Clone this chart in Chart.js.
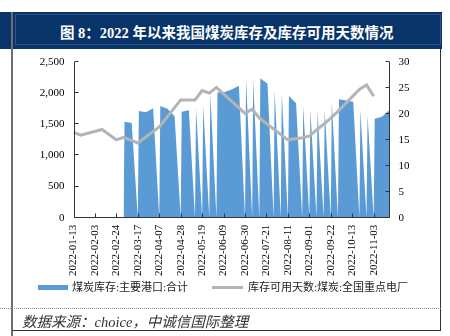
<!DOCTYPE html>
<html>
<head>
<meta charset="utf-8">
<script src="https://cdn.jsdelivr.net/npm/chart.js@4.4.1/dist/chart.umd.min.js"></script>
<style>
  body { margin: 0; background: #fff; }
  #page { position: relative; width: 450px; height: 336px; overflow: hidden; background: #fff;
          font-family: "Liberation Serif", "Noto Sans CJK SC", serif; }
  #titlebar { position: absolute; left: 0; top: 12px; width: 442px; height: 37px; background: #08346a; }
  #titlebar .inner { position: absolute; left: 15px; top: 2px; right: 1px; bottom: 4px; border: 1px solid #2b5488; }
  #title { position: absolute; left: 60px; top: 24px; height: 18px; line-height: 18px; color: #fff;
           font-weight: bold; font-size: 14.5px; white-space: nowrap; }
  .vline { position: absolute; width: 0; }
  #leftline { left: 11px; top: 12px; height: 324px; border-left: 2px solid #6e6e6e; }
  #rightline { left: 440px; top: 49px; height: 282px; border-left: 1.5px solid #333; }
  #bottomline { position: absolute; left: 12px; top: 330px; width: 429px; border-top: 1.5px solid #333; }
  #dotline { position: absolute; left: 0; top: 308px; width: 441px; border-top: 1px dotted #888; }
  #chart { position: absolute; left: 0; top: 0; }
  .legend-text { position: absolute; top: 279px; height: 17px; line-height: 17px; font-size: 11px; color: #222; white-space: nowrap; }
  #source { position: absolute; left: 22px; top: 312px; height: 20px; line-height: 20px; font-size: 14.5px;
            font-style: italic; color: #333; white-space: nowrap; }
</style>
</head>
<body>
<div id="page">
  <div id="titlebar"><div class="inner"></div></div>
  <div id="title">图 8：2022 年以来我国煤炭库存及库存可用天数情况</div>
  <div id="leftline" class="vline"></div>
  <div id="rightline" class="vline"></div>
  <div id="bottomline"></div>
  <div id="dotline"></div>
  <canvas id="chart" width="450" height="336"></canvas>
  <div style="position:absolute;left:38px;top:285px;width:30px;height:5px;background:#5b9bd5"></div>
  <div class="legend-text" style="left:72px">煤炭库存:主要港口:合计</div>
  <div style="position:absolute;left:212px;top:286px;width:31px;height:3px;background:#b4b4b4"></div>
  <div class="legend-text" style="left:248px">库存可用天数:煤炭:全国重点电厂</div>
  <div id="source">数据来源：choice，中诚信国际整理</div>
</div>
<script>
// 横轴刻度（每三周一个）
const xTickLabels = ['2022-01-13', '2022-02-03', '2022-02-24', '2022-03-17', '2022-04-07',
  '2022-04-28', '2022-05-19', '2022-06-09', '2022-06-30', '2022-07-21', '2022-08-11',
  '2022-09-01', '2022-09-22', '2022-10-13', '2022-11-03'];

// 煤炭库存:主要港口:合计（万吨）
const stockDates = ['2022-03-04', '2022-03-11', '2022-03-18', '2022-03-25', '2022-04-01',
  '2022-04-08', '2022-04-15', '2022-04-22', '2022-04-29', '2022-05-06', '2022-05-13',
  '2022-05-20', '2022-05-27', '2022-06-03', '2022-06-10', '2022-06-17', '2022-06-24',
  '2022-07-01', '2022-07-08', '2022-07-15', '2022-07-22', '2022-07-29', '2022-08-05',
  '2022-08-12', '2022-08-19', '2022-08-26', '2022-09-02', '2022-09-09', '2022-09-16',
  '2022-09-23', '2022-09-30', '2022-10-07', '2022-10-14', '2022-10-21', '2022-10-28',
  '2022-11-04', '2022-11-11', '2022-11-18'];
const stockValues = [1540, 1520, 1713, 1692, 1757,
  1794, 1750, 1630, 1702, 1724, 1760,
  1800, 2000, 2010, 2020, 2060, 2117,
  2230, 2220, 2238, 2150, 2050, 2000,
  1954, 1837, 1790, 1730, 1710, 1740,
  1860, 1900, 1880, 1860, 1730, 1650,
  1590, 1620, 1720];

// 库存可用天数:煤炭:全国重点电厂（天）
const daysDates = ['2022-01-13', '2022-01-20', '2022-02-10', '2022-02-24', '2022-03-03',
  '2022-03-17', '2022-04-07', '2022-04-28', '2022-05-12', '2022-05-19', '2022-05-26',
  '2022-06-02', '2022-06-30', '2022-07-07', '2022-07-14', '2022-07-28', '2022-08-04',
  '2022-08-11', '2022-08-25', '2022-09-01', '2022-09-08', '2022-09-15', '2022-09-22',
  '2022-09-29', '2022-10-20', '2022-10-27', '2022-11-03'];
const daysValues = [16.5, 15.9, 17.0, 15.0, 15.5,
  14.4, 17.5, 22.7, 22.7, 24.5, 24.0,
  25.1, 20.1, 20.9, 19.2, 17.1, 16.0,
  15.0, 15.4, 15.7, 16.9, 18.0, 19.2,
  20.5, 24.7, 25.6, 23.4];

const START = Date.parse('2022-01-13');
const dayOf = s => Math.round((Date.parse(s) - START) / 864e5);

// 面积图按日期轴合并：电厂数据日期上港口库存为空，按 0 处理
const stockPoints = stockDates.map((d, i) => ({ x: dayOf(d), y: stockValues[i] }))
  .concat(daysDates.filter(d => dayOf(d) >= dayOf('2022-03-03')).map(d => ({ x: dayOf(d), y: 0 })))
  .sort((a, b) => a.x - b.x);
const daysPoints = daysDates.map((d, i) => ({ x: dayOf(d), y: daysValues[i] }));

const tickFont = { family: '"Liberation Serif", serif', size: 11 };

// 坐标轴线和朝内的刻度线
const axisLines = {
  id: 'axisLines',
  afterDatasetsDraw(chart) {
    const { ctx, chartArea: a, scales } = chart;
    const L = Math.round(a.left) + 0.5, R = Math.round(a.right) - 0.5, B = Math.round(a.bottom) - 0.5;
    ctx.save();
    ctx.strokeStyle = '#333';
    ctx.lineWidth = 1;
    ctx.beginPath();
    ctx.moveTo(L, a.top); ctx.lineTo(L, B); ctx.lineTo(R, B);
    ctx.moveTo(R, a.top); ctx.lineTo(R, B);
    scales.y.ticks.forEach(t => {
      const y = Math.round(scales.y.getPixelForValue(t.value)) - 0.5;
      ctx.moveTo(L, y); ctx.lineTo(L + 4, y);
    });
    scales.y1.ticks.forEach(t => {
      const y = Math.round(scales.y1.getPixelForValue(t.value)) - 0.5;
      ctx.moveTo(R, y); ctx.lineTo(R - 4, y);
    });
    scales.x.ticks.forEach(t => {
      const x = Math.round(scales.x.getPixelForValue(t.value)) + 0.5;
      ctx.moveTo(x, B); ctx.lineTo(x, B - 4);
    });
    ctx.stroke();
    ctx.restore();
  }
};

new Chart(document.getElementById('chart'), {
  type: 'line',
  data: {
    datasets: [{
      label: '煤炭库存:主要港口:合计',
      data: stockPoints,
      yAxisID: 'y',
      fill: 'origin',
      backgroundColor: '#5b9bd5',
      borderWidth: 0,
      pointRadius: 0,
      tension: 0,
      order: 2
    }, {
      label: '库存可用天数:煤炭:全国重点电厂',
      data: daysPoints,
      yAxisID: 'y1',
      fill: false,
      borderColor: '#b4b4b4',
      borderWidth: 3,
      pointRadius: 0,
      tension: 0,
      order: 1
    }]
  },
  options: {
    responsive: false,
    animation: false,
    layout: { padding: { left: 13.5, right: 20.5, top: 62, bottom: 48.3 } },
    plugins: { legend: { display: false }, tooltip: { enabled: false } },
    scales: {
      x: {
        type: 'linear',
        min: 0,
        max: 309.5,
        afterFit: s => { s.height = 70; },
        afterBuildTicks: s => { s.ticks = xTickLabels.map(l => ({ value: dayOf(l) })); },
        grid: { display: false, drawTicks: false },
        border: { display: false },
        ticks: {
          autoSkip: false,
          minRotation: 90,
          maxRotation: 90,
          padding: 7,
          color: '#000',
          font: tickFont,
          callback: v => xTickLabels.find(l => dayOf(l) === v) || ''
        }
      },
      y: {
        position: 'left',
        min: 0,
        max: 2500,
        afterFit: s => { s.width = 60; },
        grid: { display: false, drawTicks: false },
        border: { display: false },
        ticks: { stepSize: 500, padding: 9, color: '#000', font: tickFont,
                 callback: v => v.toLocaleString('en-US') }
      },
      y1: {
        position: 'right',
        min: 0,
        max: 30,
        afterFit: s => { s.width = 40; },
        grid: { display: false, drawTicks: false },
        border: { display: false },
        ticks: { stepSize: 5, padding: 9, color: '#000', font: tickFont }
      }
    }
  },
  plugins: [axisLines]
});
</script>
</body>
</html>
